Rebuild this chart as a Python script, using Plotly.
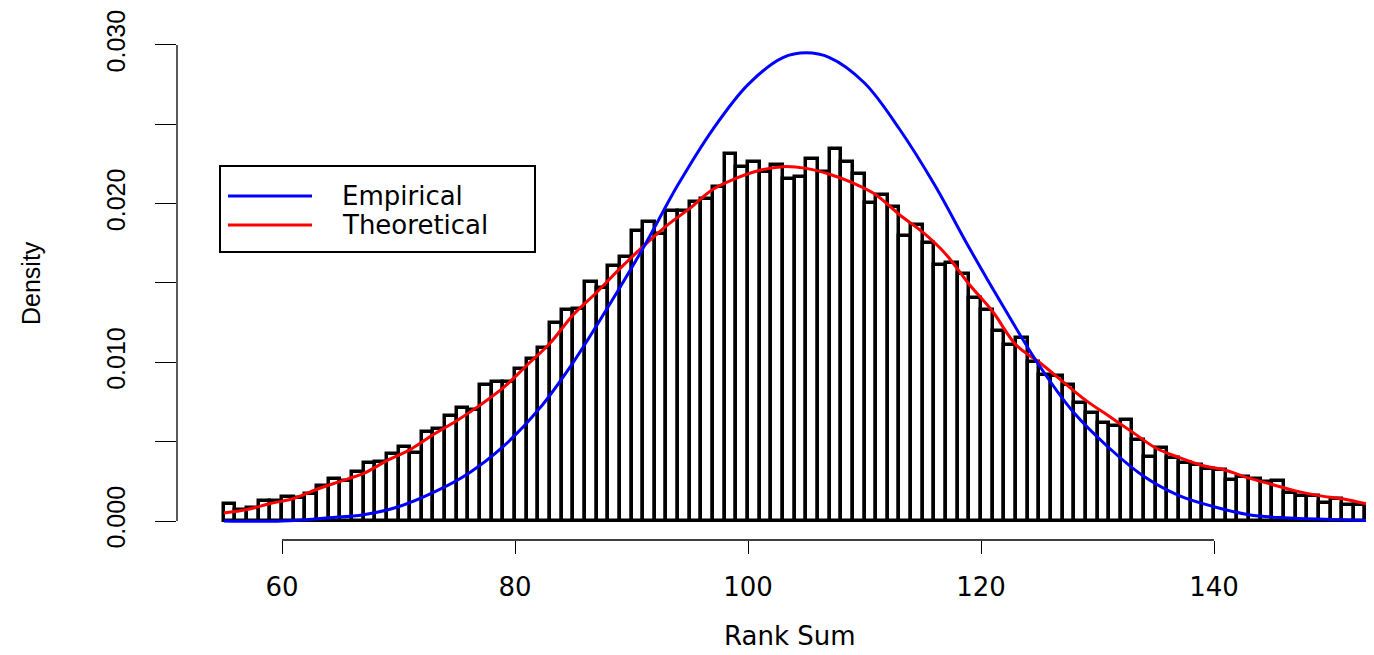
import plotly.graph_objects as go

# ---------------- data ----------------
bin_left = list(range(55, 155))
density = [
    0.00107, 0.00069, 0.00080, 0.00126, 0.00126, 0.00153, 0.00147, 0.00170, 0.00220, 0.00263,
    0.00254, 0.00310, 0.00364, 0.00370, 0.00420, 0.00464, 0.00430, 0.00560, 0.00580, 0.00660,
    0.00710, 0.00700, 0.00855, 0.00874, 0.00874, 0.00960, 0.01020, 0.01090, 0.01250, 0.01330,
    0.01334, 0.01504, 0.01466, 0.01609, 0.01666, 0.01828, 0.01882, 0.01807, 0.01956, 0.01956,
    0.02009, 0.02030, 0.02107, 0.02311, 0.02233, 0.02260, 0.02198, 0.02244, 0.02154, 0.02170,
    0.02280, 0.02202, 0.02345, 0.02265, 0.02185, 0.02006, 0.02055, 0.01977, 0.01798, 0.01865,
    0.01750, 0.01613, 0.01628, 0.01557, 0.01404, 0.01330, 0.01199, 0.01109, 0.01151, 0.01000,
    0.00920, 0.00914, 0.00857, 0.00742, 0.00679, 0.00620, 0.00600, 0.00637, 0.00510, 0.00401,
    0.00460, 0.00395, 0.00368, 0.00355, 0.00328, 0.00321, 0.00258, 0.00279, 0.00265, 0.00248,
    0.00252, 0.00178, 0.00158, 0.00158, 0.00115, 0.00137, 0.00103, 0.00101, 0.00100, 0.00090,
]

theo_x = [55, 57, 59, 61, 63, 65, 67, 69, 71, 73, 75, 77, 79, 81, 83, 85, 87, 89, 91, 93,
          95, 97, 99, 101, 103, 105, 107, 109, 111, 113, 115, 117, 119, 121, 123, 125, 127,
          129, 131, 133, 135, 137, 139, 141, 143, 145, 147, 149, 151, 153, 155]
theo_y = [0.00050, 0.00072, 0.00110, 0.00142, 0.00200, 0.00250, 0.00300, 0.00380, 0.00450,
          0.00545, 0.00632, 0.00730, 0.00840, 0.00980, 0.01120, 0.01300, 0.01440, 0.01590,
          0.01730, 0.01860, 0.01970, 0.02090, 0.02160, 0.02210, 0.02233, 0.02222, 0.02185,
          0.02130, 0.02055, 0.01930, 0.01820, 0.01680, 0.01490, 0.01320, 0.01110, 0.01000,
          0.00880, 0.00760, 0.00660, 0.00560, 0.00460, 0.00400, 0.00350, 0.00320, 0.00270,
          0.00230, 0.00190, 0.00160, 0.00140, 0.00110, 0.00080]

emp_x = [55, 60, 64, 67, 70, 73, 76, 79, 82, 85, 88, 91, 94, 97, 100, 103, 105, 107, 110,
         113, 116, 119, 122, 125, 128, 131, 134, 137, 140, 143, 146, 150, 155]
emp_y = [0.0000, 0.0000, 0.0002, 0.0004, 0.0009, 0.0018, 0.0030, 0.0047, 0.0070, 0.0100,
         0.0135, 0.0172, 0.0212, 0.0247, 0.0275, 0.0292, 0.0295, 0.0292, 0.0276, 0.0247,
         0.0212, 0.0172, 0.0134, 0.0098, 0.0068, 0.0046, 0.0028, 0.0016, 0.0009, 0.0004,
         0.0002, 0.0001, 0.0000]

x_ticks = [60, 80, 100, 120, 140]
y_ticks = [0.000, 0.005, 0.010, 0.015, 0.020, 0.025, 0.030]
y_tick_text = ["0.000", "", "0.010", "", "0.020", "", "0.030"]
legend_names = ["Empirical", "Theoretical"]
legend_colors = ["#0000ff", "#ff0000"]

# ---------------- figure geometry (page has an 8px body margin) ----------------
OFF = 8
W, H = 1374 - OFF, 655 - OFF
ML, MR, MT, MB = 177 - OFF, 0, 30 - OFF, 115
PW, PH = W - ML - MR, H - MT - MB


def px(xpix):
    return (xpix - OFF - ML) / PW


def py(ypix):
    return (H - MB - (ypix - OFF)) / PH


fig = go.Figure()
fig.add_trace(go.Bar(
    x=bin_left, y=density, width=1, offset=0,
    marker=dict(color="white", line=dict(color="black", width=3.5)),
    showlegend=False, hoverinfo="skip"))
fig.add_trace(go.Scatter(
    x=theo_x, y=theo_y, mode="lines", name=legend_names[1],
    line=dict(color=legend_colors[1], width=3, shape="spline"), showlegend=False))
fig.add_trace(go.Scatter(
    x=emp_x, y=emp_y, mode="lines", name=legend_names[0],
    line=dict(color=legend_colors[0], width=3, shape="spline"), showlegend=False))

fig.update_layout(
    width=W, height=H,
    margin=dict(l=ML, r=MR, t=MT, b=MB, pad=0),
    plot_bgcolor="white", paper_bgcolor="white",
    showlegend=False, bargap=0,
)
fig.update_xaxes(
    range=[50.987, 153.734], tickvals=x_ticks, ticks="outside", ticklen=13,
    tickwidth=1.3, tickcolor="black", showline=False, showgrid=False, zeroline=False,
    tickfont=dict(family="DejaVu Sans", size=26, color="black"), ticklabelstandoff=11,
)
fig.update_yaxes(
    range=[-0.0011975, 0.03094], tickvals=y_ticks, ticktext=y_tick_text,
    ticks="outside", ticklen=21, tickwidth=1.3, tickcolor="black", tickangle=-90,
    showline=False, showgrid=False, zeroline=False,
    tickfont=dict(family="Liberation Sans", size=25, color="black"), ticklabelstandoff=20,
)

# R-style axis lines spanning first to last tick
fig.add_shape(type="line", xref="x", yref="paper", x0=min(x_ticks), x1=max(x_ticks),
              y0=0, y1=0, line=dict(color="black", width=1.3))
fig.add_shape(type="line", xref="paper", yref="y", x0=0, x1=0,
              y0=min(y_ticks), y1=max(y_ticks), line=dict(color="black", width=1.3))

# axis titles
fig.add_annotation(text="Rank Sum", xref="paper", yref="paper", x=px(790), y=py(636),
                   xanchor="center", yanchor="middle", showarrow=False,
                   font=dict(family="DejaVu Sans", size=26, color="black"))
fig.add_annotation(text="Density", xref="paper", yref="paper", x=px(31), y=py(283),
                   xanchor="center", yanchor="middle", textangle=-90, showarrow=False,
                   font=dict(family="Liberation Sans", size=25, color="black"))

# legend box
fig.add_shape(type="rect", xref="paper", yref="paper", x0=px(220), x1=px(535),
              y0=py(252), y1=py(166), line=dict(color="black", width=2), fillcolor="white")
for i, (name, col) in enumerate(zip(legend_names, legend_colors)):
    ypix = 196 + 29 * i
    fig.add_shape(type="line", xref="paper", yref="paper", x0=px(228), x1=px(312),
                  y0=py(ypix), y1=py(ypix), line=dict(color=col, width=3))
    fig.add_annotation(text=name, xref="paper", yref="paper", x=px(340), y=py(ypix),
                       xanchor="left", yanchor="middle", showarrow=False,
                       font=dict(family="DejaVu Sans", size=26, color="black"))

fig.write_html("out.html")
